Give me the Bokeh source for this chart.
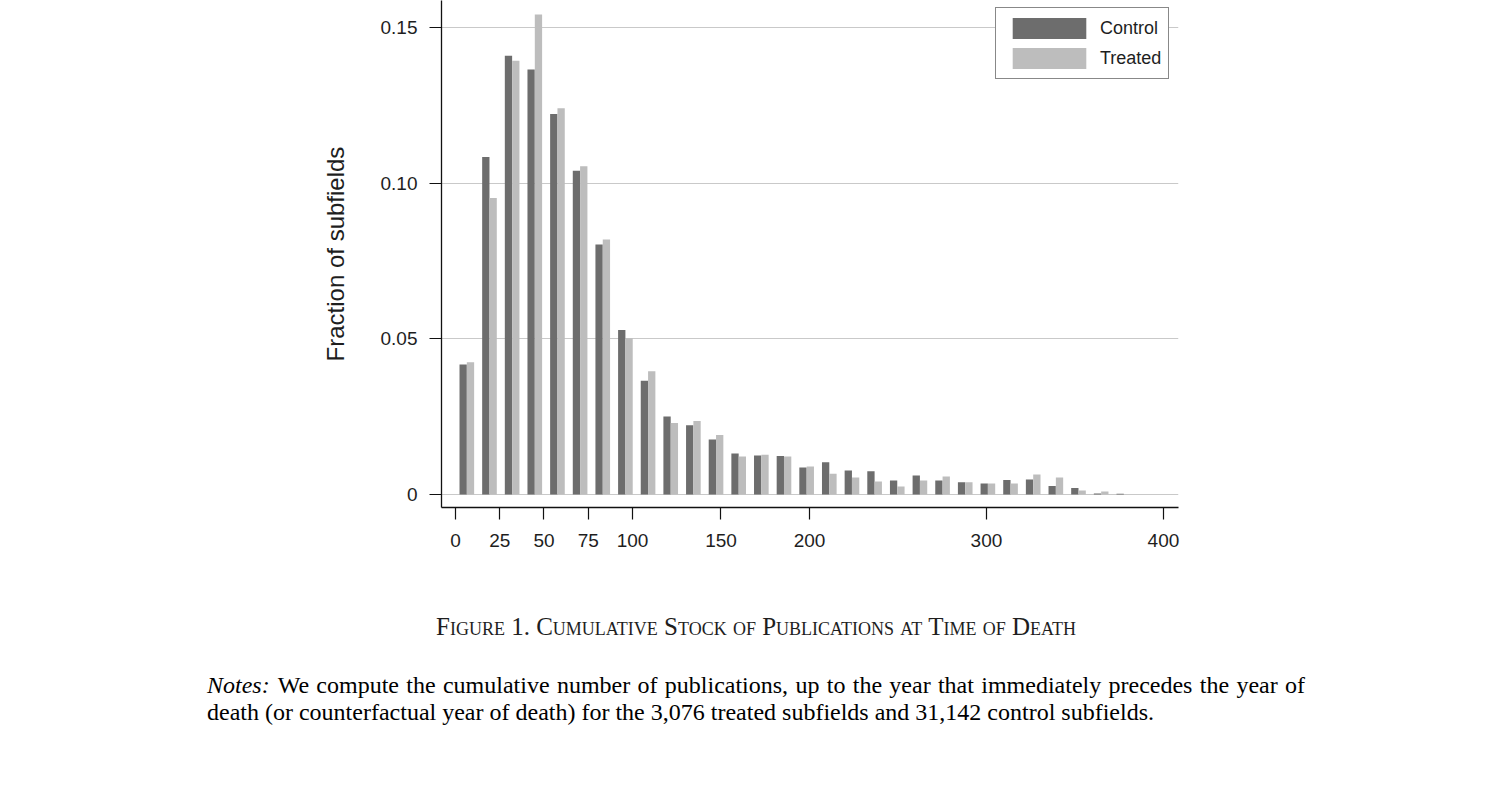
from bokeh.plotting import figure
from bokeh.models import Range1d, FixedTicker, ColumnDataSource, Legend, LegendItem, Div
from bokeh.layouts import column
from bokeh.embed import file_html
from bokeh.resources import INLINE

# ---------------- data ----------------
bin_centers = [6.4, 19.2, 32.0, 44.8, 57.6, 70.4, 83.2, 96.0, 108.8, 121.6,
               134.4, 147.2, 160.0, 172.8, 185.6, 198.4, 211.2, 224.0, 236.8, 249.6,
               262.4, 275.2, 288.0, 300.8, 313.6, 326.4, 339.2, 352.0, 364.8, 377.6]
control = [0.0418, 0.1085, 0.1410, 0.1366, 0.1223, 0.1041, 0.0804, 0.0529, 0.0366, 0.0251,
           0.0223, 0.0177, 0.0132, 0.0125, 0.0124, 0.0087, 0.0104, 0.0077, 0.0075, 0.0045,
           0.0061, 0.0045, 0.0039, 0.0035, 0.0047, 0.0048, 0.0027, 0.0021, 0.0003, 0.0002]
treated = [0.0425, 0.0953, 0.1394, 0.1543, 0.1242, 0.1055, 0.0820, 0.0502, 0.0396, 0.0230,
           0.0236, 0.0191, 0.0122, 0.0128, 0.0122, 0.0090, 0.0067, 0.0055, 0.0042, 0.0026,
           0.0045, 0.0058, 0.0039, 0.0035, 0.0035, 0.0064, 0.0055, 0.0013, 0.0010, 0.0000]
series_names = ["Control", "Treated"]
x_ticks = [0, 25, 50, 75, 100, 150, 200, 300, 400]
y_ticks = [0, 0.05, 0.10, 0.15]
y_tick_labels = ["0", "0.05", "0.10", "0.15"]
y_label = "Fraction of subfields"
caption = "Figure 1. Cumulative Stock of Publications at Time of Death"
notes_head = "Notes:"
notes_line1 = "We compute the cumulative number of publications, up to the year that immediately precedes the year of"
notes_line2 = "death (or counterfactual year of death) for the 3,076 treated subfields and 31,142 control subfields."

# ---------------- style ----------------
CTRL = "#6d6d6d"
TRT = "#bdbdbd"
BAR_W = 4.13
OFF = 2.07
SANS = "Liberation Sans"
SERIF = "Liberation Serif"
TXT = "#1e1e1e"

W = 1512
CHART_H = 560
TEXT_H = 806 - CHART_H
FRAME_L, FRAME_R, FRAME_B = 441, 1178, 507

src = ColumnDataSource(dict(
    xc=[c - OFF for c in bin_centers],
    xt=[c + OFF for c in bin_centers],
    control=control,
    treated=treated,
))

p = figure(width=W, height=CHART_H,
           x_range=Range1d(-7.91, 408.5), y_range=Range1d(-0.00418, 0.1588),
           output_backend="svg", toolbar_location=None,
           min_border_left=FRAME_L, min_border_right=W - FRAME_R,
           min_border_top=0, min_border_bottom=CHART_H - FRAME_B)
p.outline_line_color = None
p.background_fill_color = "white"
p.border_fill_color = "white"

r1 = p.vbar(x="xc", top="control", bottom=0, width=BAR_W, source=src,
            fill_color=CTRL, line_color=None)
r2 = p.vbar(x="xt", top="treated", bottom=0, width=BAR_W, source=src,
            fill_color=TRT, line_color=None)

# axes
p.xaxis.ticker = FixedTicker(ticks=x_ticks)
p.yaxis.ticker = FixedTicker(ticks=y_ticks)
p.yaxis.major_label_overrides = {t: l for t, l in zip(y_ticks, y_tick_labels)}
for ax in (p.xaxis, p.yaxis):
    ax.minor_tick_line_color = None
    ax.axis_line_color = "#111111"
    ax.axis_line_width = 1.3
    ax.major_tick_line_color = "#111111"
    ax.major_tick_line_width = 1.2
    ax.major_tick_out = 12
    ax.major_tick_in = 0
    ax.major_label_text_font = SANS
    ax.major_label_text_font_size = "19px"
    ax.major_label_text_color = TXT
p.xaxis.major_label_standoff = 14
p.yaxis.major_label_standoff = 12
p.yaxis.axis_label = y_label
p.yaxis.axis_label_text_font = SANS
p.yaxis.axis_label_text_font_size = "24px"
p.yaxis.axis_label_text_font_style = "normal"
p.yaxis.axis_label_text_color = TXT
p.yaxis.axis_label_standoff = 29

p.xgrid.visible = False
p.ygrid.ticker = FixedTicker(ticks=y_ticks)
p.ygrid.grid_line_color = "#c9c9c9"
p.ygrid.grid_line_width = 1.2

legend = Legend(items=[LegendItem(label=series_names[0], renderers=[r1]),
                       LegendItem(label=series_names[1], renderers=[r2])],
                location=(554, 428), margin=0, padding=7, spacing=4,
                glyph_width=92, glyph_height=26, label_standoff=5, label_height=26,
                label_text_font=SANS, label_text_font_size="18px", label_text_color=TXT,
                border_line_color="#111111", border_line_width=1.2,
                background_fill_color="white", background_fill_alpha=1.0)
p.add_layout(legend)

# ---------------- caption & notes ----------------
CAP_SIZE = 25
NOTE_SIZE = 24
NOTE_LH = 27
cap_top = (635 - CHART_H) - 0.891 * CAP_SIZE
note_top = (694 - CHART_H) - (NOTE_LH - 1.107 * NOTE_SIZE) / 2 - 0.891 * NOTE_SIZE

html = f"""
<div style="position:relative;width:{W}px;height:{TEXT_H}px;font-family:'{SERIF}';color:{TXT};margin:0;padding:0;">
  <div style="position:absolute;left:0;top:{cap_top:.1f}px;width:{W}px;text-align:center;
              font-size:{CAP_SIZE}px;line-height:{1.107 * CAP_SIZE:.2f}px;font-variant:small-caps;
              white-space:nowrap;">{caption}</div>
  <div style="position:absolute;left:207px;top:{note_top:.1f}px;width:1098px;
              font-size:{NOTE_SIZE}px;line-height:{NOTE_LH}px;color:#000;white-space:nowrap;
              display:flex;justify-content:space-between;">
    <i style="padding-right:8px;">{notes_head}</i><span style="flex:1;text-align:justify;text-align-last:justify;">{notes_line1}</span>
  </div>
  <div style="position:absolute;left:207px;top:{note_top + NOTE_LH:.1f}px;width:1098px;
              font-size:{NOTE_SIZE}px;line-height:{NOTE_LH}px;color:#000;white-space:nowrap;">{notes_line2}</div>
</div>
"""
div = Div(text=html, width=W, height=TEXT_H, margin=0)

layout = column(p, div, spacing=0)
open("out.html", "w").write(file_html(layout, INLINE))
